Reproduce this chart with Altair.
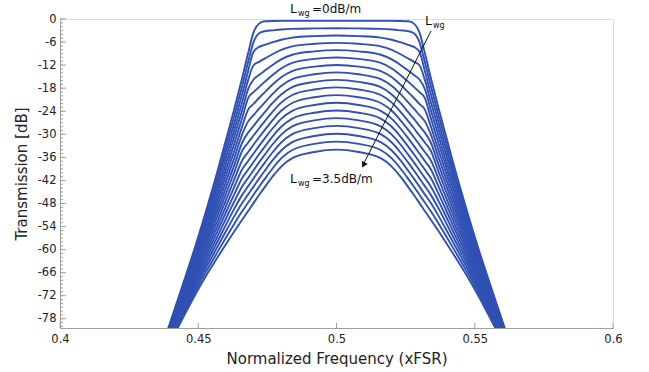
import altair as alt
import pandas as pd

# distance from the band centre (0.5 xFSR); curves are symmetric about it
FREQ_OFFSET = [0, 0.008, 0.016, 0.020, 0.023, 0.026, 0.028, 0.030, 0.032, 0.034,
               0.037, 0.040, 0.043, 0.047, 0.051, 0.056, 0.061, 0.066]

# transmission [dB] of each curve at the offsets above (Lwg = 0 ... 3.5 dB/m)
curve_00 = [-0.5, -0.5, -0.5, -0.5, -0.52, -0.6, -1.2, -3.5, -9.0, -15.0, -23.5, -31.5, -39.5, -49.5, -59.0, -70.0, -80.8, -91.0]
curve_01 = [-2.4, -2.45, -2.58, -2.75, -2.95, -3.18, -3.73, -6.02, -11.32, -17.10, -25.30, -33.04, -40.78, -50.47, -59.71, -70.48, -81.06, -91.09]
curve_02 = [-4.3, -4.45, -4.85, -5.4, -6.03, -6.75, -7.25, -8.53, -13.65, -19.21, -27.11, -34.57, -42.05, -51.44, -60.43, -70.95, -81.32, -91.17]
curve_03 = [-6.2, -6.45, -7.12, -8.05, -9.1, -10.32, -11.16, -12.04, -15.97, -21.31, -28.91, -36.11, -43.33, -52.41, -61.14, -71.43, -81.58, -91.26]
curve_04 = [-8.1, -8.43, -9.31, -10.52, -11.9, -13.49, -14.59, -15.75, -18.30, -23.42, -30.72, -37.65, -44.61, -53.38, -61.86, -71.91, -81.84, -91.34]
curve_05 = [-10.0, -10.39, -11.43, -12.86, -14.49, -16.37, -17.67, -19.04, -20.63, -25.52, -32.52, -39.19, -45.88, -54.35, -62.57, -72.38, -82.10, -91.43]
curve_06 = [-11.95, -12.39, -13.56, -15.16, -16.99, -19.1, -20.56, -22.1, -23.63, -27.68, -34.37, -40.76, -47.19, -55.34, -63.31, -72.87, -82.37, -91.51]
curve_07 = [-13.9, -14.38, -15.66, -17.42, -19.42, -21.74, -23.34, -25.02, -26.7, -29.84, -36.22, -42.34, -48.50, -56.34, -64.04, -73.36, -82.64, -91.60]
curve_08 = [-15.85, -16.37, -17.74, -19.63, -21.78, -24.28, -26.0, -27.8, -29.61, -32.0, -38.07, -43.92, -49.81, -57.34, -64.77, -73.85, -82.91, -91.69]
curve_09 = [-17.8, -18.34, -19.78, -21.76, -24.01, -26.62, -28.42, -30.31, -32.2, -34.16, -39.92, -45.49, -51.12, -58.33, -65.51, -74.34, -83.18, -91.77]
curve_10 = [-19.8, -20.36, -21.85, -23.89, -26.22, -28.91, -30.77, -32.73, -34.68, -36.63, -41.82, -47.11, -52.46, -59.35, -66.26, -74.84, -83.45, -91.86]
curve_11 = [-21.8, -22.37, -23.89, -25.98, -28.36, -31.11, -33.01, -35.01, -37.0, -38.99, -43.72, -48.73, -53.81, -60.37, -67.01, -75.34, -83.72, -91.95]
curve_12 = [-23.8, -24.38, -25.92, -28.05, -30.46, -33.26, -35.19, -37.21, -39.24, -41.27, -45.62, -50.35, -55.15, -61.39, -67.76, -75.84, -84.00, -92.04]
curve_13 = [-25.8, -26.39, -27.95, -30.09, -32.53, -35.36, -37.31, -39.35, -41.4, -43.45, -47.52, -51.97, -56.49, -62.41, -68.52, -76.34, -84.27, -92.13]
curve_14 = [-27.8, -28.39, -29.97, -32.13, -34.6, -37.45, -39.42, -41.49, -43.56, -45.63, -49.41, -53.58, -57.84, -63.43, -69.27, -76.85, -84.55, -92.22]
curve_15 = [-29.85, -30.44, -32.03, -34.21, -36.68, -39.55, -41.53, -43.61, -45.69, -47.77, -51.36, -55.24, -59.21, -64.48, -70.04, -77.36, -84.83, -92.31]
curve_16 = [-31.9, -32.5, -34.09, -36.28, -38.77, -41.65, -43.64, -45.73, -47.82, -49.91, -53.31, -56.90, -60.59, -65.53, -70.81, -77.87, -85.11, -92.41]
curve_17 = [-34.0, -34.6, -36.2, -38.4, -40.9, -43.8, -45.8, -47.9, -50.0, -52.1, -55.3, -58.6, -62.0, -66.6, -71.6, -78.4, -85.4, -92.5]

CURVES = [curve_00, curve_01, curve_02, curve_03, curve_04, curve_05, curve_06, curve_07, curve_08,
          curve_09, curve_10, curve_11, curve_12, curve_13, curve_14, curve_15, curve_16, curve_17]

X_TICKS = [0.4, 0.45, 0.5, 0.55, 0.6]
Y_TICKS = [0, -6, -12, -18, -24, -30, -36, -42, -48, -54, -60, -66, -72, -78]
Y_MINOR = list(range(-80, 1))

W, H = 553, 309
BLUE = "#3050b4"
GREY = "#a0a0a0"
FONT = "DejaVu Sans"

rows = []
for i, c in enumerate(CURVES):
    for d, v in zip(FREQ_OFFSET, c):
        rows.append({"curve": i, "f": round(0.5 - d, 4), "t": v})
        if d > 0:
            rows.append({"curve": i, "f": round(0.5 + d, 4), "t": v})
df = pd.DataFrame(rows)

xscale = alt.Scale(domain=[0.4, 0.6], nice=False, zero=False)
yscale = alt.Scale(domain=[-80.4, 0], nice=False, zero=False)

xaxis = alt.Axis(
    values=X_TICKS, labelExpr="datum.value + ''", title="Normalized Frequency (xFSR)",
    tickSize=0, grid=False, domainColor=GREY, labelPadding=5, titlePadding=7, labelFlush=False,
    labelFontSize=11.5, titleFontSize=15, labelFont=FONT, titleFont=FONT,
    titleFontWeight="normal", labelColor="#222", titleColor="#222")
yaxis = alt.Axis(
    values=Y_TICKS, labelExpr="datum.value + ''", title="Transmission [dB]",
    tickSize=0, grid=False, domainColor=GREY, labelPadding=4, titlePadding=8, labelFlush=False,
    labelFontSize=11.5, titleFontSize=15, labelFont=FONT, titleFont=FONT,
    titleFontWeight="normal", labelColor="#222", titleColor="#222")

lines = alt.Chart(df).mark_line(
    interpolate="monotone", clip=True, strokeWidth=1.9, color=BLUE
).encode(
    x=alt.X("f:Q", scale=xscale, axis=xaxis),
    y=alt.Y("t:Q", scale=yscale, axis=yaxis),
    detail="curve:N",
)

ymin = alt.Chart(pd.DataFrame({"t": Y_MINOR})).mark_rule(color=GREY, strokeWidth=1).encode(
    y=alt.Y("t:Q", scale=yscale, axis=yaxis), x=alt.value(0), x2=alt.value(3))
ymaj = alt.Chart(pd.DataFrame({"t": Y_TICKS})).mark_rule(color=GREY, strokeWidth=1).encode(
    y=alt.Y("t:Q", scale=yscale, axis=yaxis), x=alt.value(0), x2=alt.value(6))
xmaj = alt.Chart(pd.DataFrame({"f": X_TICKS})).mark_rule(color=GREY, strokeWidth=1).encode(
    x=alt.X("f:Q", scale=xscale, axis=xaxis), y=alt.value(H), y2=alt.value(H - 5))

one = pd.DataFrame({"a": [0]})


def txt(s, x, y, size):
    return alt.Chart(one).mark_text(
        text=s, align="left", baseline="alphabetic", fontSize=size, font=FONT, color="#111"
    ).encode(x=alt.value(x), y=alt.value(y))


annots = [
    txt("L", 230, -6, 12.5), txt("wg", 238, -3, 8), txt("=0dB/m", 252, -6, 12),
    txt("L", 365, 6, 12.5), txt("wg", 373, 9, 8),
    txt("L", 230, 164, 12.5), txt("wg", 238, 167, 8), txt("=3.5dB/m", 252, 164, 12),
]

arrow_line = alt.Chart(one).mark_rule(color="#111", strokeWidth=1).encode(
    x=alt.value(371), y=alt.value(12), x2=alt.value(303), y2=alt.value(146))
arrow_head = alt.Chart(one).mark_point(
    shape="triangle-up", filled=True, color="#111", size=45, angle=207, opacity=1
).encode(x=alt.value(303.5), y=alt.value(146))

chart = alt.layer(lines, ymin, ymaj, xmaj, arrow_line, arrow_head, *annots).properties(
    width=W, height=H,
    padding={"left": 60, "top": 19, "right": 36, "bottom": 44},
    autosize=alt.AutoSizeParams(type="none"),
).configure_view(stroke=None).configure(background="white")

chart.save("out.html", embed_options={"renderer": "svg", "actions": False})
